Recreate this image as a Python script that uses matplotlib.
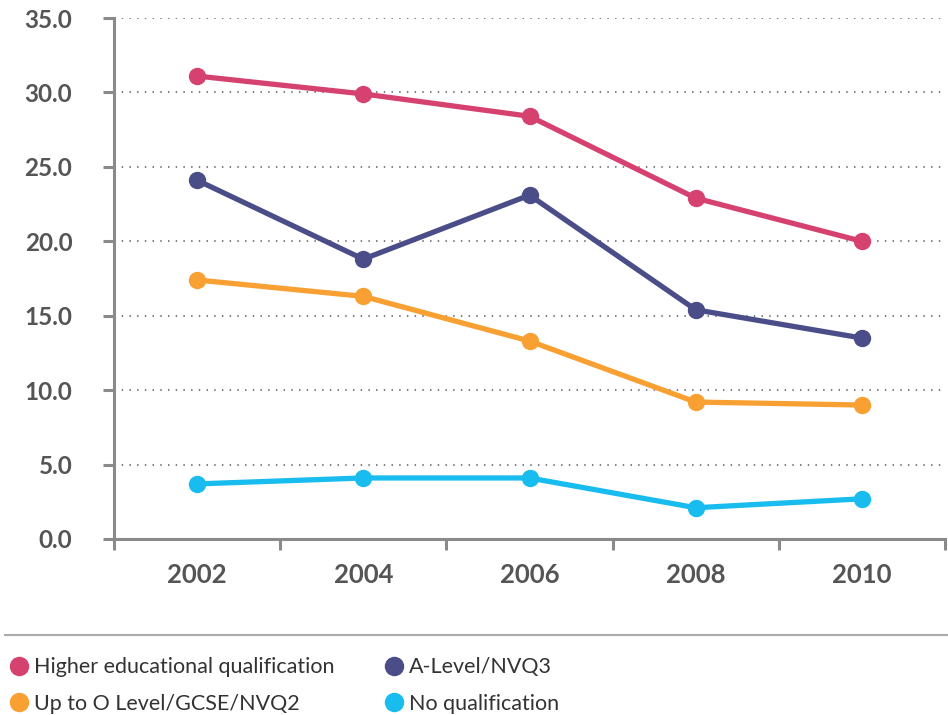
import matplotlib
matplotlib.use("Agg")
import matplotlib.pyplot as plt
from matplotlib.lines import Line2D
import numpy as np

years = ["2002", "2004", "2006", "2008", "2010"]
higher = [31.1, 29.9, 28.4, 22.9, 20.0]
alevel = [24.1, 18.8, 23.1, 15.4, 13.5]
olevel = [17.4, 16.3, 13.3, 9.2, 9.0]
noqual = [3.7, 4.1, 4.1, 2.1, 2.7]

series_names = ["Higher educational qualification", "A-Level/NVQ3",
                "Up to O Level/GCSE/NVQ2", "No qualification"]
colors = ["#d6426f", "#4a4d88", "#f9a033", "#19bcee"]
values = [higher, alevel, olevel, noqual]

plt.rcParams["font.family"] = ["Lato", "DejaVu Sans"]

fig = plt.figure(figsize=(9.48, 7.15), dpi=100)
ax = fig.add_axes([114/948, 1-539/715, (945-114)/948, (539-18)/715])

x = np.arange(len(years))
for v, c, n in zip(values, colors, series_names):
    ax.plot(x, v, color=c, lw=3.8, marker="o", ms=11.5, label=n,
            solid_capstyle="round", zorder=3)

ax.set_xlim(-0.5, len(years) - 0.5)
ax.set_ylim(0, 35)
ax.set_yticks(np.arange(0, 36, 5))
ax.set_yticklabels([f"{t:.1f}" for t in np.arange(0, 36, 5)])
ax.set_xticks(np.arange(-0.5, len(years), 1.0))
ax.set_xticklabels([])
ax.set_xticks(x, minor=True)
ax.set_xticklabels(years, minor=True)

for t in np.arange(5, 36, 5):
    ax.axhline(t, color="#808080", lw=1.5, ls=(0, (0.7, 3.0)), zorder=1)

for s in ["top", "right"]:
    ax.spines[s].set_visible(False)
for s in ["left", "bottom"]:
    ax.spines[s].set_color("#8a8a8a")
    ax.spines[s].set_linewidth(2.2)

ax.tick_params(axis="y", which="major", length=8, width=2.2, color="#8a8a8a",
               pad=22, labelsize=17.5, labelcolor="#555555")
ax.tick_params(axis="x", which="major", length=8, width=2.2, color="#8a8a8a")
ax.tick_params(axis="x", which="minor", length=0, pad=17, labelsize=18.5,
               labelcolor="#555555")
for lab in ax.get_yticklabels() + ax.get_xticklabels(minor=True):
    lab.set_fontweight("bold")

# separator line above legend
fig.add_artist(Line2D([5/948, 1.0], [1-635/715, 1-635/715], color="#aaaaaa", lw=1.5))

handles = [Line2D([], [], color=c, marker="o", ls="none", ms=13) for c in colors]
order = [0, 2, 1, 3]
leg = fig.legend([handles[i] for i in order], [series_names[i] for i in order],
                 ncol=2, loc="upper left", bbox_to_anchor=(-0.013, 1-638/715),
                 frameon=False, fontsize=15.5, handletextpad=0.15,
                 columnspacing=2.2, labelspacing=0.75, handlelength=1.1)
for t in leg.get_texts():
    t.set_color("#333333")

fig.savefig("out.png", dpi=100)
